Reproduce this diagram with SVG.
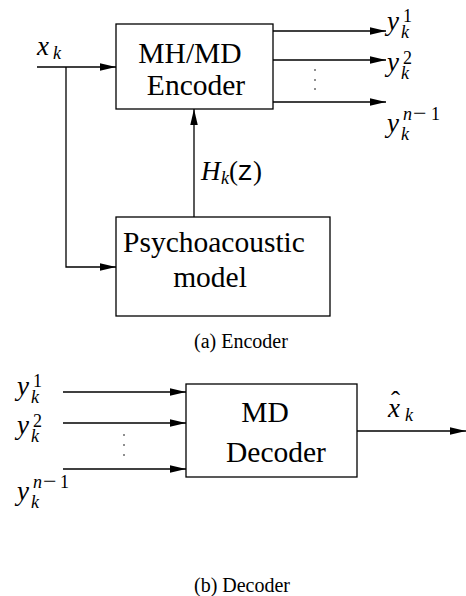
<svg xmlns="http://www.w3.org/2000/svg" width="466" height="596" viewBox="0 0 466 596">
<style>
.box{fill:#fff;stroke:#000;stroke-width:1.3}
.ln{fill:none;stroke:#000;stroke-width:1.3}
.ar{marker-end:url(#ah)}
text{font-family:'Liberation Serif','DejaVu Serif',serif}
.t{font-size:29.5px;fill:#000}
.cap{font-size:20px;fill:#000}
.m{font-style:italic;font-size:27px;fill:#000}
.s{font-size:18px}
.mn{font-size:24px}
.r{font-style:normal}
.tt{font-family:'Liberation Mono','DejaVu Sans Mono',monospace;font-style:normal}
.dot{fill:#000}
</style>
<defs>
<marker id="ah" markerUnits="userSpaceOnUse" markerWidth="16" markerHeight="8" refX="16" refY="3.75" orient="auto">
<path d="M0,0 L16,3.75 L0,7.5 z" fill="#000"/>
</marker>
</defs>

<g id="connectors">
<path class="ln ar" d="M37,67 H116"/>
<path class="ln ar" d="M66,67 V267 H116"/>
<path class="ln ar" d="M194,217 V109"/>
<path class="ln ar" d="M273,31 H386"/>
<path class="ln ar" d="M273,60 H386"/>
<path class="ln ar" d="M273,102 H386"/>
<circle class="dot" cx="315" cy="70" r="0.8"/>
<circle class="dot" cx="315" cy="80" r="0.8"/>
<circle class="dot" cx="315" cy="89" r="0.8"/>
<path class="ln ar" d="M63,392 H186"/>
<path class="ln ar" d="M63,423 H186"/>
<path class="ln ar" d="M63,469 H186"/>
<circle class="dot" cx="124" cy="435" r="0.8"/>
<circle class="dot" cx="124" cy="445" r="0.8"/>
<circle class="dot" cx="124" cy="455" r="0.8"/>
<path class="ln ar" d="M357,431 H466"/>
</g>

<g id="encoder">
<rect class="box" x="116" y="24" width="157" height="85"/>
<text class="t" x="190" y="63" text-anchor="middle">MH/MD</text>
<text class="t" x="196" y="95" text-anchor="middle">Encoder</text>
</g>

<g id="psychoacoustic">
<rect class="box" x="116" y="217" width="214" height="99"/>
<text class="t" x="123" y="252">Psychoacoustic</text>
<text class="t" x="210" y="287" text-anchor="middle">model</text>
</g>

<g id="decoder">
<rect class="box" x="186" y="384" width="171" height="93"/>
<text class="t" x="265" y="422" text-anchor="middle">MD</text>
<text class="t" x="276" y="462" text-anchor="middle">Decoder</text>
</g>

<g id="labels">
<text class="m" x="37" y="55">x<tspan class="s" x="53" y="59">k</tspan></text>
<text class="m" x="201" y="180">H<tspan class="s" x="221" y="184">k</tspan><tspan class="r" x="229" y="180">(</tspan><tspan class="tt" x="237" y="180">z</tspan><tspan class="r" x="253" y="180">)</tspan></text>
<text class="m" x="387" y="30">y<tspan class="s r" x="403" y="22">1</tspan><tspan class="s" x="401" y="38">k</tspan></text>
<text class="m" x="387" y="71">y<tspan class="s r" x="403" y="64">2</tspan><tspan class="s" x="401" y="79">k</tspan></text>
<text class="m" x="387" y="132">y<tspan class="s" x="403" y="120">n</tspan><tspan class="mn r" x="413" y="121">−</tspan><tspan class="s r" x="431" y="120">1</tspan><tspan class="s" x="401" y="140">k</tspan></text>
<text class="m" x="17" y="395">y<tspan class="s r" x="33" y="387">1</tspan><tspan class="s" x="31" y="403">k</tspan></text>
<text class="m" x="17" y="434">y<tspan class="s r" x="33" y="427">2</tspan><tspan class="s" x="31" y="442">k</tspan></text>
<text class="m" x="17" y="500">y<tspan class="s" x="33" y="488">n</tspan><tspan class="mn r" x="43" y="489">−</tspan><tspan class="s r" x="60" y="488">1</tspan><tspan class="s" x="31" y="508">k</tspan></text>
<text class="m" x="388" y="417">x<tspan class="s" x="405" y="421">k</tspan></text>
<text class="m r" x="391" y="410" font-size="22">ˆ</text>
</g>

<g id="captions">
<text class="cap" x="241" y="348" text-anchor="middle">(a)  Encoder</text>
<text class="cap" x="242" y="592" text-anchor="middle">(b)  Decoder</text>
</g>
</svg>
